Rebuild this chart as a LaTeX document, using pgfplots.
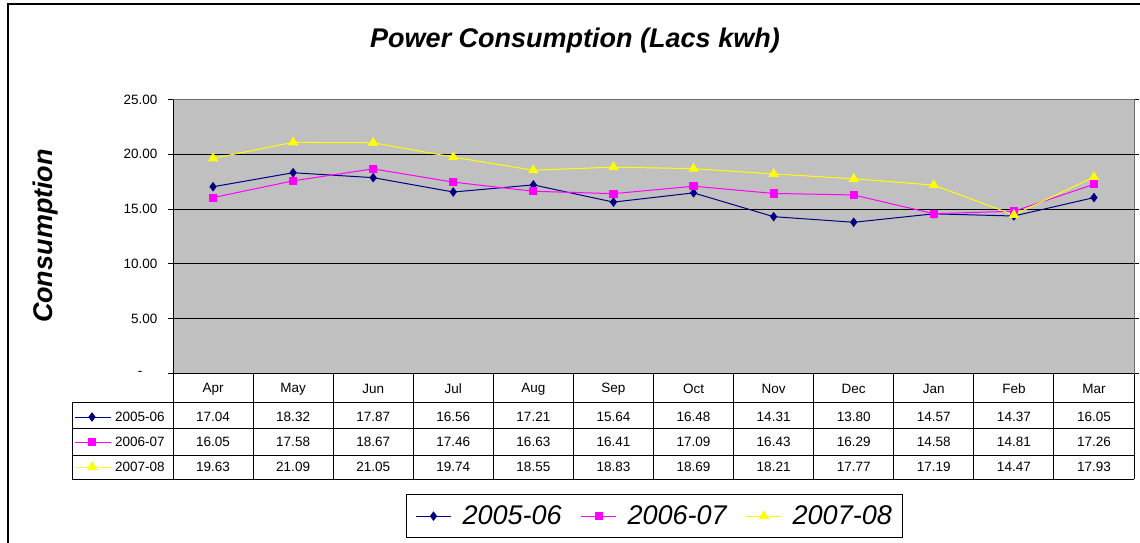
\documentclass[border=0pt]{standalone}
\usepackage{fontspec}
\setmainfont{Liberation Sans}
\usepackage{pgfplots}
\usepackage{pgfplotstable}
\pgfplotsset{compat=1.18}
\definecolor{navyS}{RGB}{0,0,128}
\definecolor{magS}{RGB}{255,0,255}
\definecolor{yelS}{RGB}{255,255,0}
\definecolor{plotgray}{RGB}{192,192,192}
\definecolor{bordergray}{RGB}{110,110,110}

\pgfplotstableread{
x a b c
0 17.04 16.05 19.63
1 18.32 17.58 21.09
2 17.87 18.67 21.05
3 16.56 17.46 19.74
4 17.21 16.63 18.55
5 15.64 16.41 18.83
6 16.48 17.09 18.69
7 14.31 16.43 18.21
8 13.80 16.29 17.77
9 14.57 14.58 17.19
10 14.37 14.81 14.47
11 16.05 17.26 17.93
}\data

\newcommand{\tabfont}{\fontsize{13.5}{16}\selectfont}

\begin{document}
\begin{tikzpicture}
\useasboundingbox (0,0) rectangle (1140pt,-542pt);
\draw[line width=2pt] (8pt,-545pt) -- (8pt,-4pt) -- (1145pt,-4pt);
\node[font=\fontsize{27}{32}\selectfont\bfseries\itshape] at (575pt,-41pt) {Power Consumption (Lacs kwh)};
\node[rotate=90, font=\fontsize{27}{32}\selectfont\bfseries\itshape] at (46pt,-236pt) {Consumption};
\begin{axis}[
  at={(173pt,-373.5pt)}, anchor=south west,
  scale only axis, width=961pt, height=274pt,
  xmin=-0.5, xmax=11.5, ymin=0, ymax=25,
  clip=false,
  axis background/.style={fill=plotgray},
  axis line style={bordergray, line width=1pt},
  xtick={0,...,11},
  xticklabels={Apr,May,Jun,Jul,Aug,Sep,Oct,Nov,Dec,Jan,Feb,Mar},
  xticklabel style={anchor=center, yshift=-10.5pt, font=\tabfont},
  x tick style={draw=none},
  ytick={0,5,10,15,20,25},
  yticklabels={{-\hphantom{00}},5.00,10.00,15.00,20.00,25.00},
  y tick style={black, line width=1pt},
  tick align=outside,
  major tick length=5pt,
  yticklabel style={font=\tabfont, xshift=-7pt},
  ymajorgrids, grid style={black, line width=1pt},
  legend columns=3,
  legend style={at={(axis description cs:0.2425,-0.4398)}, anchor=north west,
    draw=black, line width=1pt, font=\fontsize{27}{32}\selectfont\itshape,
    inner xsep=9pt, inner ysep=9.5pt,
    cells={inner sep=0pt},
    /tikz/every odd column/.append style={column sep=9pt},
    /tikz/every even column/.append style={column sep=17pt}},
  legend image code/.code={\draw[mark repeat=2,mark phase=2,#1] plot coordinates {(0pt,0pt)(17.5pt,0pt)(35pt,0pt)};},
]
\addplot[navyS, line width=1pt, mark=diamond*, mark size=4pt] table[x=x,y=a]{\data};
\addlegendentry{2005-06}
\addplot[magS, line width=1pt, mark=square*, mark size=3.6pt] table[x=x,y=b]{\data};
\addlegendentry{2006-07}
\addplot[yelS, line width=1pt, mark=triangle*, mark size=5pt] table[x=x,y=c]{\data};
\addlegendentry{2007-08}

% borders
\draw[black, line width=1pt] (axis cs:-0.5,25) -- (axis cs:-0.5,0) -- (axis cs:11.5,0);
\draw[bordergray, line width=1pt] (axis cs:-0.5,25) -- (axis cs:11.5,25) -- (axis cs:11.5,0);

% data table grid
\draw[black, line width=1pt] (axis cs:-1.761,-2.60) -- (axis cs:11.5,-2.60);
\draw[black, line width=1pt] (axis cs:-1.761,-5.06) -- (axis cs:11.5,-5.06);
\draw[black, line width=1pt] (axis cs:-1.761,-7.44) -- (axis cs:11.5,-7.44);
\draw[black, line width=1pt] (axis cs:-1.761,-9.64) -- (axis cs:11.5,-9.64);
\draw[black, line width=1pt] (axis cs:-1.761,-2.60) -- (axis cs:-1.761,-9.64);
\pgfplotsinvokeforeach{-0.5,0.5,1.5,2.5,3.5,4.5,5.5,6.5,7.5,8.5,9.5,10.5,11.5}{
  \draw[black, line width=1pt] (axis cs:#1,0) -- (axis cs:#1,-9.64);
}

% data table values
\addplot[draw=none, mark=none, forget plot, point meta=explicit,
  nodes near coords={\pgfmathprintnumber[fixed,fixed zerofill,precision=2,assume math mode=true]{\pgfplotspointmeta}},
  nodes near coords align=center,
  every node near coord/.append style={font=\tabfont, black, anchor=center}]
  table[x=x, y expr=-3.97, meta=a]{\data};
\addplot[draw=none, mark=none, forget plot, point meta=explicit,
  nodes near coords={\pgfmathprintnumber[fixed,fixed zerofill,precision=2,assume math mode=true]{\pgfplotspointmeta}},
  nodes near coords align=center,
  every node near coord/.append style={font=\tabfont, black, anchor=center}]
  table[x=x, y expr=-6.25, meta=b]{\data};
\addplot[draw=none, mark=none, forget plot, point meta=explicit,
  nodes near coords={\pgfmathprintnumber[fixed,fixed zerofill,precision=2,assume math mode=true]{\pgfplotspointmeta}},
  nodes near coords align=center,
  every node near coord/.append style={font=\tabfont, black, anchor=center}]
  table[x=x, y expr=-8.53, meta=c]{\data};

% table row keys
\addplot[navyS, line width=1pt, mark=diamond*, mark indices={2}, mark size=4pt, forget plot]
  coordinates {(-1.724,-3.97) (-1.511,-3.97) (-1.274,-3.97)};
\addplot[magS, line width=1pt, mark=square*, mark indices={2}, mark size=3.6pt, forget plot]
  coordinates {(-1.724,-6.25) (-1.511,-6.25) (-1.274,-6.25)};
\addplot[yelS, line width=1pt, mark=triangle*, mark indices={2}, mark size=5pt, forget plot]
  coordinates {(-1.724,-8.53) (-1.511,-8.53) (-1.274,-8.53)};
\node[anchor=west, font=\tabfont, inner sep=0pt] at (axis cs:-1.224,-3.97) {2005-06};
\node[anchor=west, font=\tabfont, inner sep=0pt] at (axis cs:-1.224,-6.25) {2006-07};
\node[anchor=west, font=\tabfont, inner sep=0pt] at (axis cs:-1.224,-8.53) {2007-08};
\end{axis}
\end{tikzpicture}
\end{document}
